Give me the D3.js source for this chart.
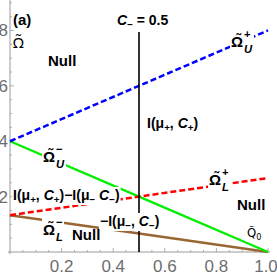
<!DOCTYPE html>
<html>
<head>
<meta charset="utf-8">
<script src="https://cdn.jsdelivr.net/npm/d3@7/dist/d3.min.js"></script>
<style>
  body { margin: 0; background: #fff; }
  svg { display: block; }
  .lbl { font-family: "Liberation Sans Narrow", "Arial Narrow", "Liberation Sans", sans-serif; }
  .sym { font-family: "DejaVu Sans Condensed", "DejaVu Sans", sans-serif; }
  .noto { font-family: "Noto Sans", "DejaVu Sans", sans-serif; }
</style>
</head>
<body>
<div id="chart"></div>
<script>
// values
const cValues = [0, 0.5, 1];
const omegaUPlus = [4, 6, 8];          // blue dashed
const omegaUMinus = [4, 2, 0];         // green
const omegaLPlus = [1.33, 2, 2.67];    // red dashed
const omegaLMinus = [1.33, 0.67, 0];   // brown
const cMinus = 0.5;
const xTicks = [0.2, 0.4, 0.6, 0.8, 1.0];
const yTicks = [2, 4, 6, 8];

const width = 277, height = 277;

const svg = d3.select("#chart").append("svg")
    .attr("width", width)
    .attr("height", height);

const x = d3.scaleLinear().domain([0, 1]).range([10, 268]);
const y = d3.scaleLinear().domain([0, 9.1]).range([252, 0]);

// axes, mathematica style (ticks inward, gray)
const axisColor = "#9a9a9a";
const textColor = "#6e6e6e";

const xMinor = d3.range(0, 1.0001, 0.05).filter(v => v > 0.001);
svg.append("g").selectAll("line")
    .data(xMinor)
    .join("line")
    .attr("x1", d => x(d)).attr("x2", d => x(d))
    .attr("y1", y(0))
    .attr("y2", d => y(0) - (Math.abs(d * 5 - Math.round(d * 5)) < 1e-6 ? 4 : 2))
    .attr("stroke", axisColor).attr("stroke-width", 0.8);

const yMinor = d3.range(0.5, 9.01, 0.5);
svg.append("g").selectAll("line")
    .data(yMinor)
    .join("line")
    .attr("y1", d => y(d)).attr("y2", d => y(d))
    .attr("x1", x(0))
    .attr("x2", d => x(0) + (d % 2 === 0 ? 4 : 2))
    .attr("stroke", axisColor).attr("stroke-width", 0.8);

svg.append("line")
    .attr("x1", x(0) - 2).attr("x2", x(1) + 2)
    .attr("y1", y(0)).attr("y2", y(0))
    .attr("stroke", axisColor).attr("stroke-width", 1);
svg.append("line")
    .attr("x1", x(0)).attr("x2", x(0))
    .attr("y1", y(0) + 2).attr("y2", 0)
    .attr("stroke", axisColor).attr("stroke-width", 1);

svg.append("g").selectAll("text")
    .data(xTicks)
    .join("text")
    .attr("class", "lbl")
    .attr("x", d => Math.min(x(d), 266))
    .attr("y", 272)
    .attr("text-anchor", "middle")
    .attr("font-size", 17)
    .attr("fill", textColor)
    .text(d => d.toFixed(1));

svg.append("g").selectAll("text")
    .data(yTicks)
    .join("text")
    .attr("class", "lbl")
    .attr("x", 8)
    .attr("y", d => y(d) + 6)
    .attr("text-anchor", "end")
    .attr("font-size", 17)
    .attr("fill", textColor)
    .text(d => d);

// curves
const line = d3.line()
    .x((d, i) => x(cValues[i]))
    .y(d => y(d));

const series = [
    { vals: omegaLMinus, color: "#996633", dash: null, w: 2.5 },
    { vals: omegaUMinus, color: "#00ee00", dash: null, w: 2.2 },
    { vals: omegaLPlus, color: "#ff0000", dash: "6,3", w: 2.5 },
    { vals: omegaUPlus, color: "#0000ff", dash: "6,3", w: 2.5 }
];

svg.append("g").selectAll("path")
    .data(series)
    .join("path")
    .attr("d", d => line(d.vals))
    .attr("fill", "none")
    .attr("stroke", d => d.color)
    .attr("stroke-width", d => d.w)
    .attr("stroke-dasharray", d => d.dash);

// C_- = 0.5 line
svg.append("line")
    .attr("x1", x(cMinus)).attr("x2", x(cMinus))
    .attr("y1", 32).attr("y2", y(0))
    .attr("stroke", "#000").attr("stroke-width", 1.6);

// labels: base text with optional stacked super/subscripts
const addLabel = (px, py, opts) => {
    const g = svg.append("g");
    const fs = opts.size || 15;
    const weight = opts.bold === false ? "normal" : "bold";
    const base = g.append("text")
        .attr("class", opts.font || "lbl")
        .attr("x", px).attr("y", py)
        .attr("font-size", fs)
        .attr("font-weight", weight)
        .attr("fill", "#000");
    (opts.parts || [{ t: opts.text }]).forEach(p => {
        const ts = base.append("tspan").text(p.t);
        if (p.italic) ts.attr("font-style", "italic");
        if (p.sub) ts.attr("font-size", fs * 0.7).attr("dy", 3);
        if (p.back) ts.attr("dy", -3);
    });
    const w = base.node().getComputedTextLength();
    if (opts.sup) {
        g.append("text").attr("class", "lbl")
            .attr("x", px + w + 1).attr("y", py - 9)
            .attr("font-size", fs * 0.75).attr("font-weight", "bold")
            .text(opts.sup);
    }
    if (opts.sub) {
        g.append("text").attr("class", "lbl")
            .attr("x", px + w + 1).attr("y", py + 6)
            .attr("font-size", fs * 0.75).attr("font-weight", "bold")
            .attr("font-style", "italic")
            .text(opts.sub);
    }
    if (opts.bg) {
        const bb = g.node().getBBox();
        g.insert("rect", ":first-child")
            .attr("x", bb.x - 1).attr("y", bb.y)
            .attr("width", bb.width + 2).attr("height", bb.height)
            .attr("fill", "#fff");
    }
};

const omegaT = "\u03A9\u0303";

addLabel(13, 25, { text: "(a)", size: 15 });
addLabel(13, 48, { text: omegaT, size: 15, bold: false, font: "noto" });
addLabel(48, 66, { text: "Null" });
addLabel(117, 25, { parts: [{ t: "C", italic: true }, { t: "\u2212", sub: true }, { t: " = 0.5", back: true }], size: 14 });
addLabel(231, 47, { text: omegaT, sup: "+", sub: "U", bg: true });
addLabel(147, 128, { parts: [{ t: "I(μ" }, { t: "+", sub: true }, { t: ", ", back: true }, { t: "C", italic: true }, { t: "+", sub: true }, { t: ")", back: true }], size: 14 });
addLabel(43, 162, { text: omegaT, sup: "\u2212", sub: "U", bg: true });
addLabel(13, 200, { parts: [{ t: "I(μ" }, { t: "+", sub: true }, { t: ", ", back: true }, { t: "C", italic: true }, { t: "+", sub: true }, { t: ")\u2212I(μ", back: true }, { t: "\u2212", sub: true }, { t: " ", back: true }, { t: "C", italic: true }, { t: "\u2212", sub: true }, { t: ")", back: true }], size: 14, bg: true });
addLabel(100, 226, { parts: [{ t: "\u2212I(μ" }, { t: "\u2212", sub: true }, { t: ", ", back: true }, { t: "C", italic: true }, { t: "\u2212", sub: true }, { t: ")", back: true }], size: 14, bg: true });
addLabel(43, 235, { text: omegaT, sup: "\u2212", sub: "L", bg: true });
addLabel(72, 240, { text: "Null" });
addLabel(209, 185, { text: omegaT, sup: "+", sub: "L", bg: true });
addLabel(237, 210, { text: "Null" });
addLabel(247, 237, { parts: [{ t: "Q\u0303" }, { t: "0", sub: true }], size: 13, bold: false, font: "sym", bg: true });
</script>
</body>
</html>
